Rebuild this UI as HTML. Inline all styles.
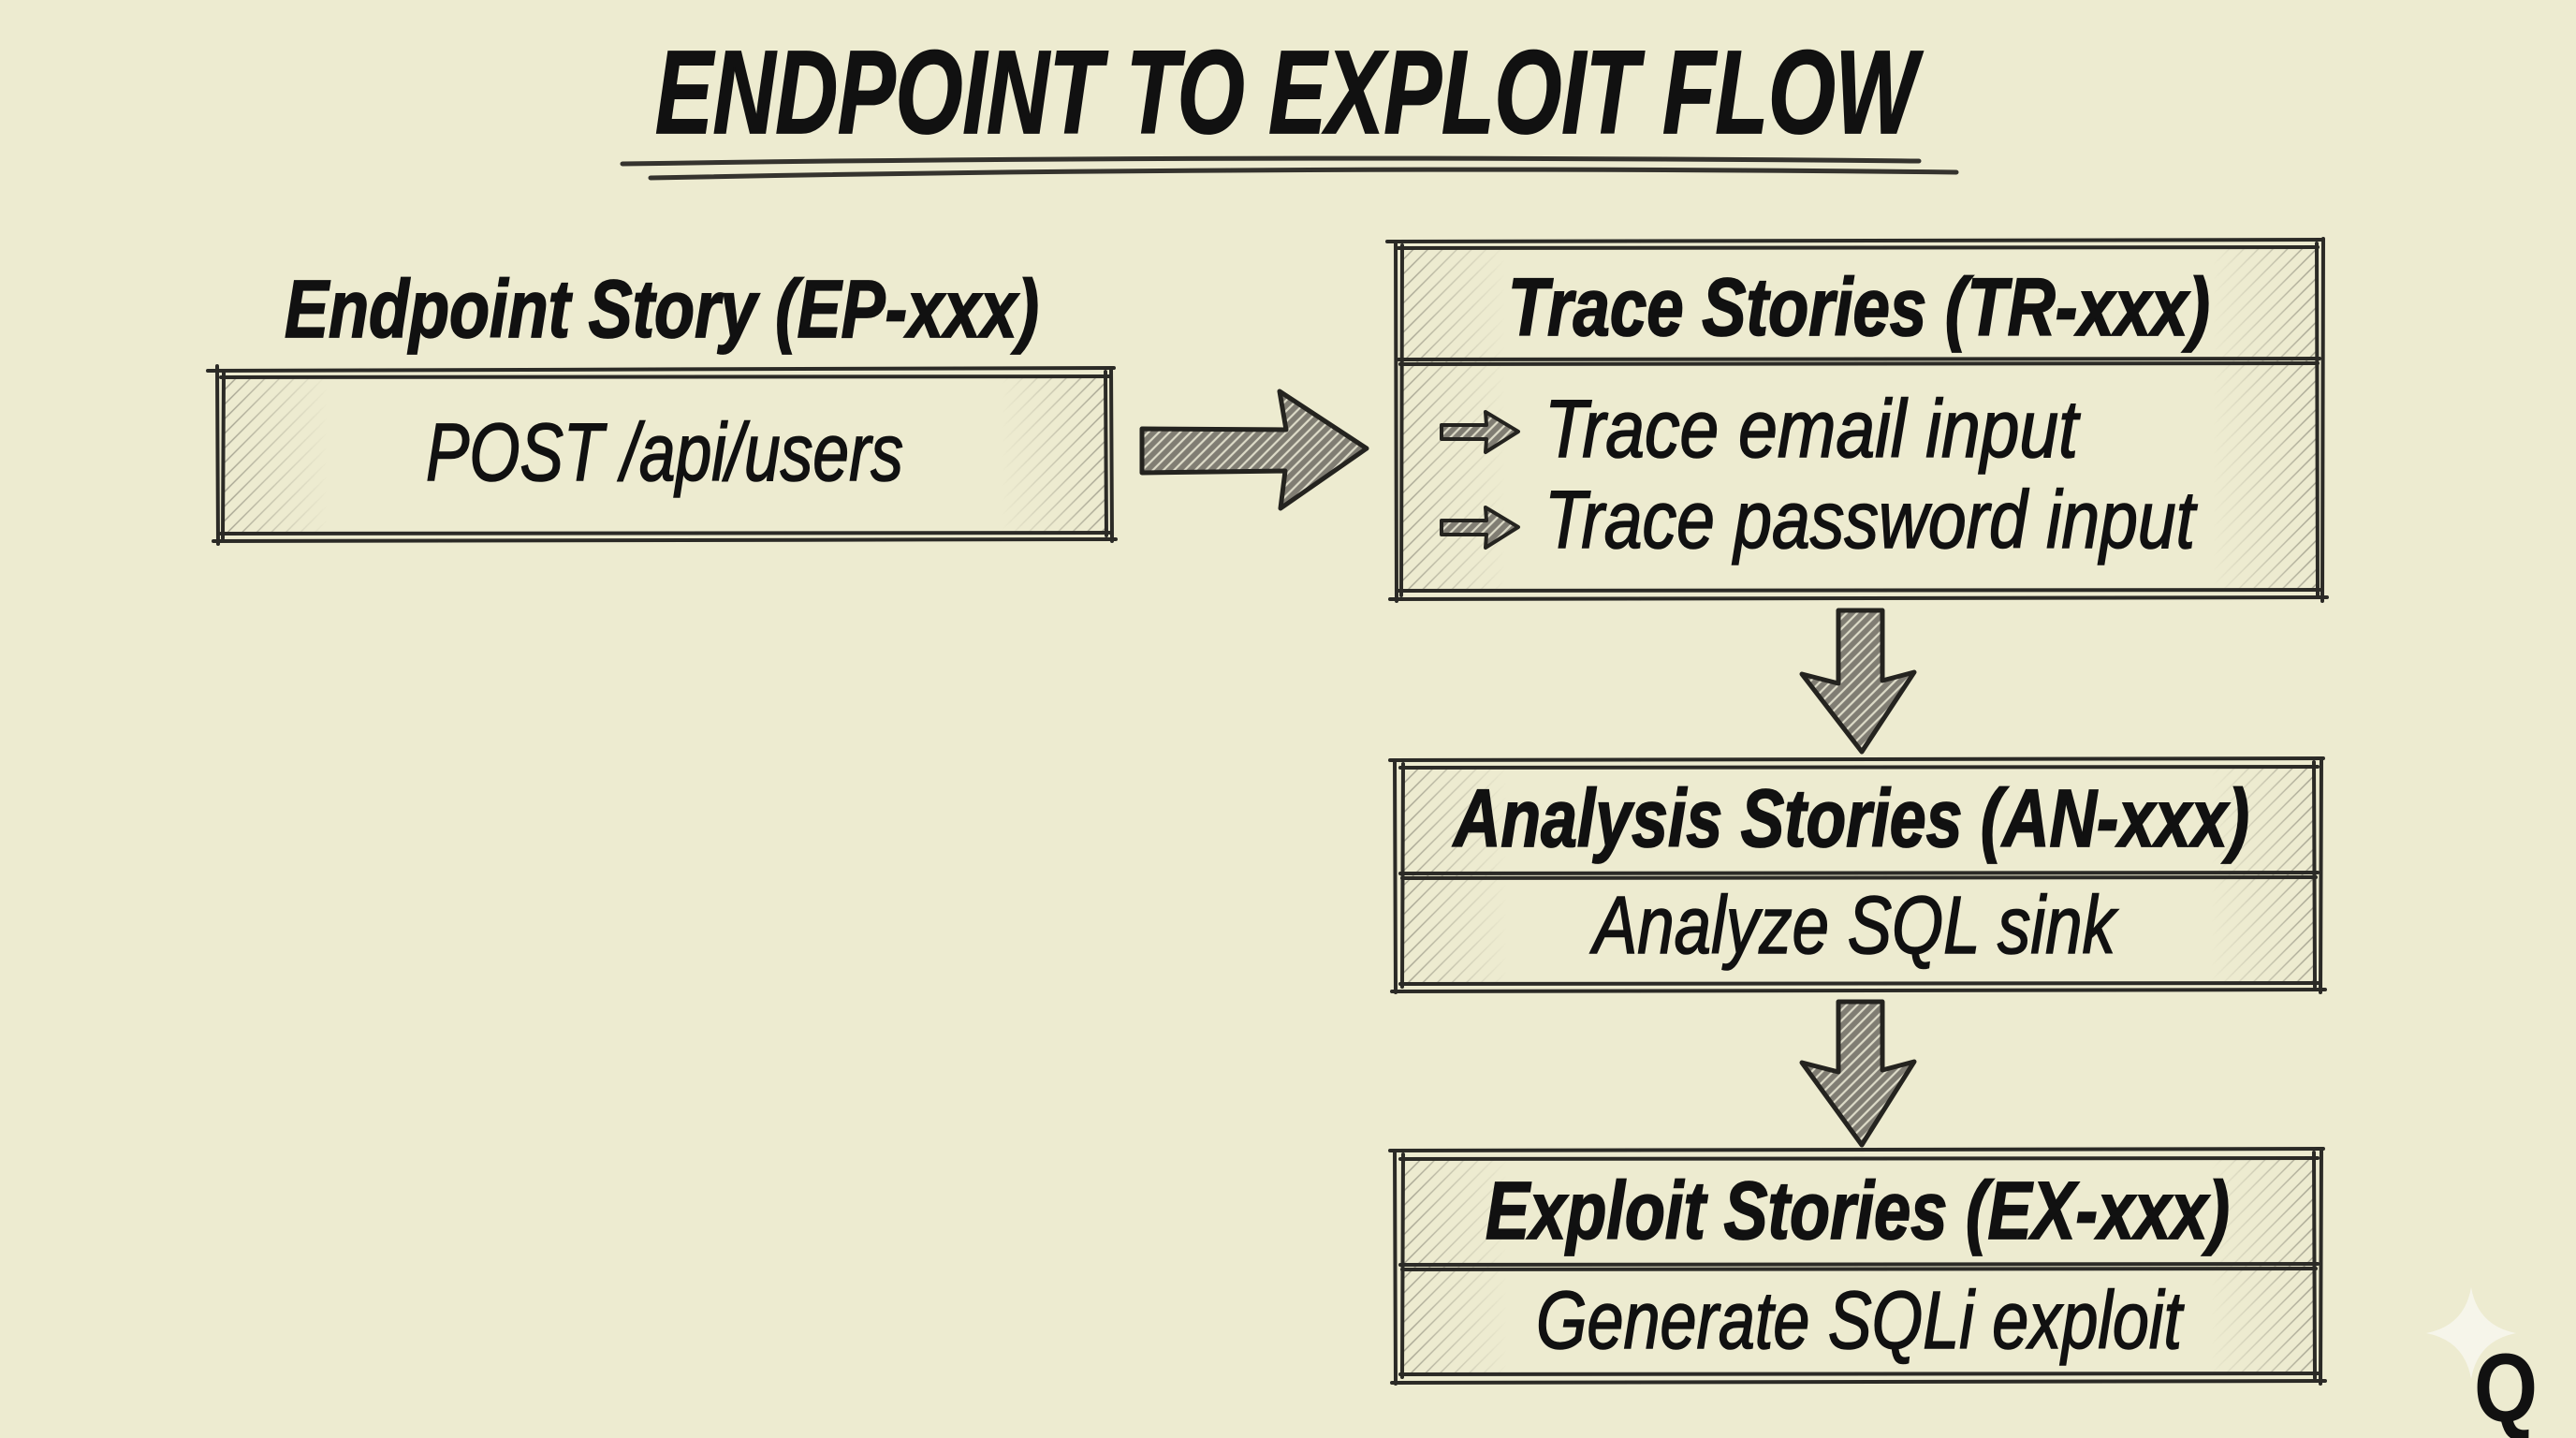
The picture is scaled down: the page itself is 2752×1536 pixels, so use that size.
<!DOCTYPE html>
<html><head><meta charset="utf-8"><style>
html,body{margin:0;padding:0;background:#edebd0;}
svg{display:block;}
text{font-family:"Liberation Sans",sans-serif;fill:#111;}
.b{stroke:#111;stroke-width:1.6;}
.h{stroke:#111;stroke-width:1.8;}
</style></head><body>
<svg width="2752" height="1536" viewBox="0 0 2752 1536" xmlns="http://www.w3.org/2000/svg">
<defs>
<pattern id="h" width="11" height="11" patternUnits="userSpaceOnUse" patternTransform="rotate(45)">
<line x1="2" y1="0" x2="2" y2="11" stroke="#4f4d45" stroke-width="1.4"/>
</pattern>
<pattern id="ah" width="8" height="8" patternUnits="userSpaceOnUse" patternTransform="rotate(45)">
<rect width="8" height="8" fill="#807d73"/>
<line x1="2" y1="0" x2="2" y2="8" stroke="#dddbc8" stroke-width="2.2"/>
</pattern>
<linearGradient id="gl" x1="0" y1="0" x2="1" y2="0"><stop offset="0" stop-color="#fff" stop-opacity="0.8"/><stop offset="0.4" stop-color="#fff" stop-opacity="0.45"/><stop offset="1" stop-color="#fff" stop-opacity="0"/></linearGradient>
<linearGradient id="gr" x1="1" y1="0" x2="0" y2="0"><stop offset="0" stop-color="#fff" stop-opacity="0.8"/><stop offset="0.4" stop-color="#fff" stop-opacity="0.45"/><stop offset="1" stop-color="#fff" stop-opacity="0"/></linearGradient>
<mask id="ml" maskContentUnits="objectBoundingBox"><rect width="1" height="1" fill="url(#gl)"/></mask>
<mask id="mr" maskContentUnits="objectBoundingBox"><rect width="1" height="1" fill="url(#gr)"/></mask>
</defs>
<rect width="2752" height="1536" fill="#edebd0"/>

<!-- Title -->
<text class="h" x="700" y="142" font-size="126" font-weight="bold" font-style="italic" textLength="1348" lengthAdjust="spacingAndGlyphs">ENDPOINT TO EXPLOIT FLOW</text>
<g fill="none" stroke="#35332e" stroke-width="5" stroke-linecap="round">
<path d="M665,175 Q1300,165 2050,172"/>
<path d="M695,190 Q1400,176 2090,184"/>
</g>

<!-- hatching -->
<g opacity="0.6">
<rect x="240" y="403" width="110" height="167" fill="url(#h)" mask="url(#ml)"/>
<rect x="1070" y="403" width="110" height="167" fill="url(#h)" mask="url(#mr)"/>
<rect x="1498" y="266" width="110" height="366" fill="url(#h)" mask="url(#ml)"/>
<rect x="2364" y="266" width="110" height="366" fill="url(#h)" mask="url(#mr)"/>
<rect x="1500" y="820" width="110" height="232" fill="url(#h)" mask="url(#ml)"/>
<rect x="2362" y="820" width="110" height="232" fill="url(#h)" mask="url(#mr)"/>
<rect x="1500" y="1239" width="110" height="230" fill="url(#h)" mask="url(#ml)"/>
<rect x="2362" y="1239" width="110" height="230" fill="url(#h)" mask="url(#mr)"/>
</g>

<!-- Boxes -->
<g fill="none" stroke="#2b2a26" stroke-width="4" stroke-linecap="round">
<!-- Endpoint -->
<path d="M222,396 L1190,393"/><path d="M236,403 L1185,402"/>
<path d="M236,570 L1186,569"/><path d="M228,578 L1192,576"/>
<path d="M232,391 L233,581"/><path d="M239,398 L238,575"/>
<path d="M1181,397 L1182,572"/><path d="M1187,393 L1188,578"/>
<!-- Trace -->
<path d="M1482,258 L2482,256"/><path d="M1494,265 L2476,264"/>
<path d="M1494,384 L2478,383"/><path d="M1496,389 L2476,388"/>
<path d="M1494,631 L2478,630"/><path d="M1485,640 L2486,638"/>
<path d="M1491,258 L1492,642"/><path d="M1498,262 L1497,636"/>
<path d="M2475,260 L2476,636"/><path d="M2482,255 L2481,642"/>
<!-- Analysis -->
<path d="M1485,812 L2482,810"/><path d="M1496,820 L2476,819"/>
<path d="M1496,933 L2476,932"/><path d="M1498,938 L2474,937"/>
<path d="M1496,1051 L2478,1050"/><path d="M1487,1059 L2484,1057"/>
<path d="M1490,812 L1491,1060"/><path d="M1499,816 L1498,1054"/>
<path d="M2472,814 L2473,1054"/><path d="M2480,810 L2479,1060"/>
<!-- Exploit -->
<path d="M1485,1229 L2482,1227"/><path d="M1496,1238 L2476,1237"/>
<path d="M1496,1351 L2476,1350"/><path d="M1498,1356 L2474,1355"/>
<path d="M1496,1468 L2478,1467"/><path d="M1487,1477 L2484,1475"/>
<path d="M1490,1229 L1491,1478"/><path d="M1499,1233 L1498,1471"/>
<path d="M2472,1231 L2473,1472"/><path d="M2480,1227 L2479,1478"/>
</g>

<!-- Arrows -->
<g stroke="#24231f" stroke-width="5" stroke-linejoin="round" fill="url(#ah)">
<path d="M1220,458 L1374,459 L1367,418 L1460,479 L1368,543 L1373,503 L1220,505 Z"/>
<path d="M1964,652 L2011,652 L2011,727 L2045,718 L1989,803 L1925,720 L1964,730 Z"/>
<path d="M1964,1070 L2011,1070 L2011,1143 L2045,1134 L1989,1223 L1925,1135 L1964,1145 Z"/>
</g>
<g stroke="#24231f" stroke-width="4" stroke-linejoin="round" fill="url(#ah)">
<path d="M1540,454 L1588,454 L1587,440 L1622,461 L1587,483 L1588,469 L1540,469 Z"/>
<path d="M1540,556 L1588,556 L1587,542 L1622,563 L1587,585 L1588,571 L1540,571 Z"/>
</g>

<!-- Text -->
<text class="h" x="304" y="360" font-size="87" font-weight="bold" font-style="italic" textLength="806" lengthAdjust="spacingAndGlyphs">Endpoint Story (EP-xxx)</text>
<text class="b" x="455" y="513" font-size="87" font-style="italic" textLength="510" lengthAdjust="spacingAndGlyphs">POST /api/users</text>

<text class="h" x="1611" y="358" font-size="87" font-weight="bold" font-style="italic" textLength="750" lengthAdjust="spacingAndGlyphs">Trace Stories (TR-xxx)</text>
<text class="b" x="1650" y="488" font-size="87" font-style="italic" textLength="570" lengthAdjust="spacingAndGlyphs">Trace email input</text>
<text class="b" x="1650" y="585" font-size="87" font-style="italic" textLength="695" lengthAdjust="spacingAndGlyphs">Trace password input</text>

<text class="h" x="1553" y="904" font-size="87" font-weight="bold" font-style="italic" textLength="850" lengthAdjust="spacingAndGlyphs">Analysis Stories (AN-xxx)</text>
<text class="b" x="1702" y="1018" font-size="87" font-style="italic" textLength="558" lengthAdjust="spacingAndGlyphs">Analyze SQL sink</text>

<text class="h" x="1587" y="1323" font-size="87" font-weight="bold" font-style="italic" textLength="795" lengthAdjust="spacingAndGlyphs">Exploit Stories (EX-xxx)</text>
<text class="b" x="1641" y="1440" font-size="87" font-style="italic" textLength="690" lengthAdjust="spacingAndGlyphs">Generate SQLi exploit</text>

<!-- corner logo -->
<path d="M2640,1375 Q2647,1416 2688,1424 Q2647,1432 2640,1473 Q2633,1432 2592,1424 Q2633,1416 2640,1375 Z" fill="#f6f5ea"/>
<text x="2643" y="1518" font-size="104" font-weight="bold" textLength="68" lengthAdjust="spacingAndGlyphs">Q</text>
</svg>
</body></html>
